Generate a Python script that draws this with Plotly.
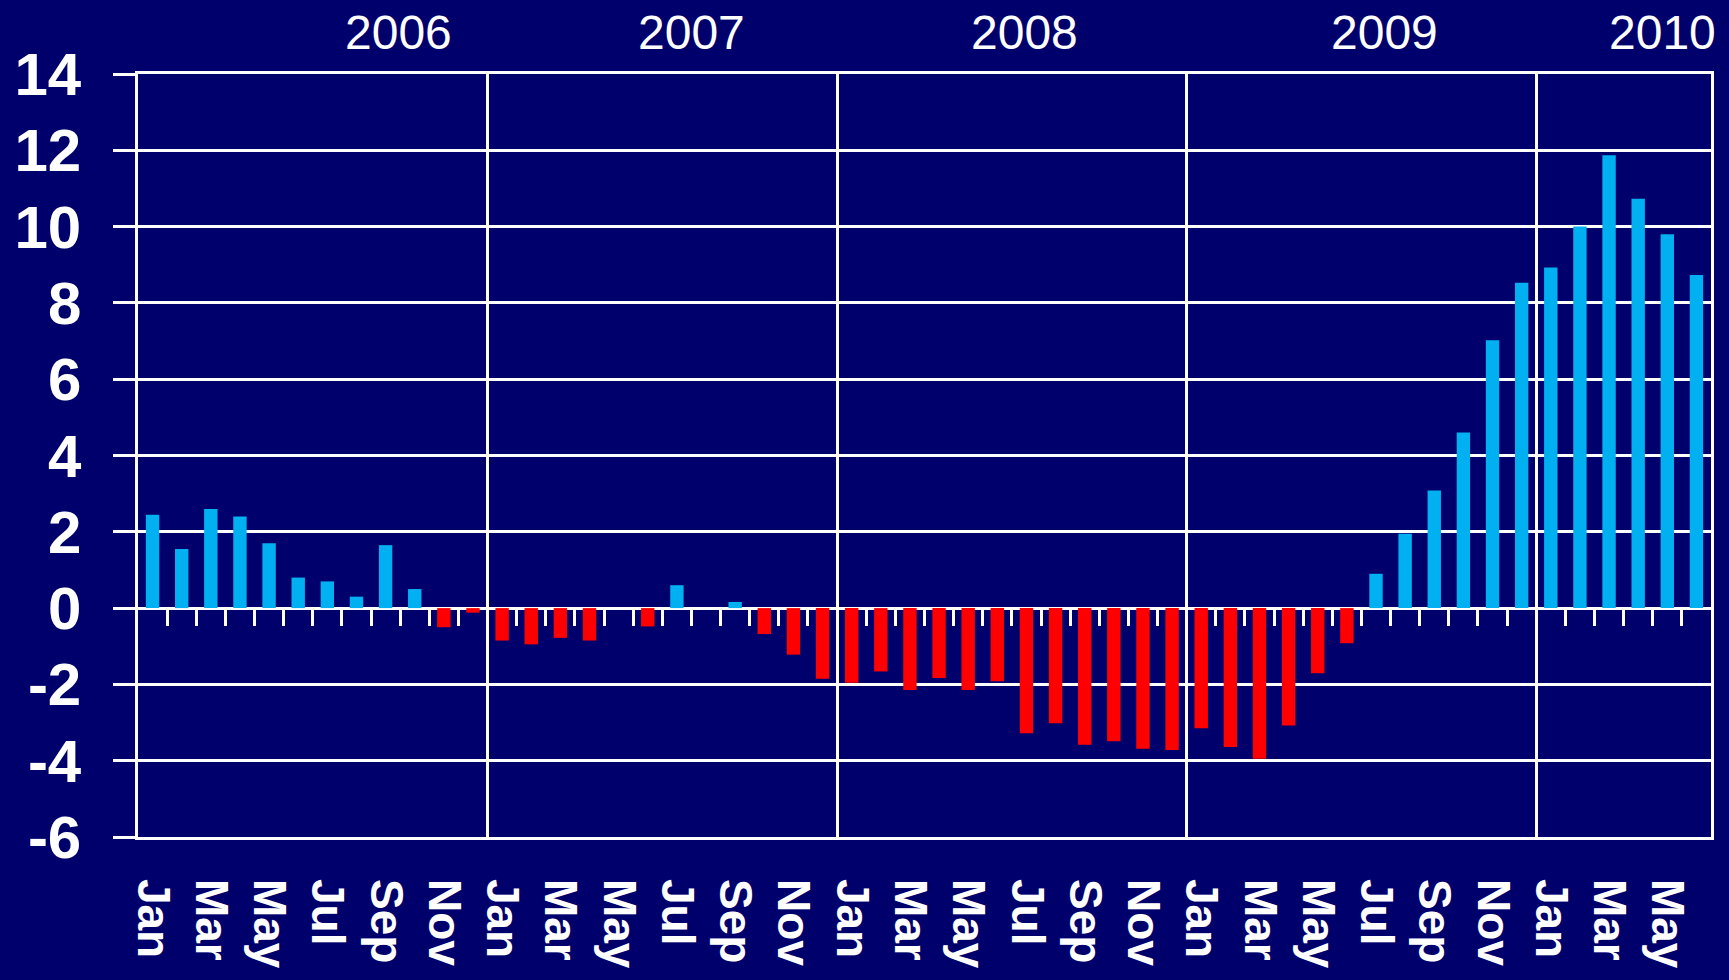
import plotly.graph_objects as go

# ---- data ----
month_cycle = ["Jan", "Feb", "Mar", "Apr", "May", "Jun",
               "Jul", "Aug", "Sep", "Oct", "Nov", "Dec"]
years = [2006, 2007, 2008, 2009, 2010]
values_2006 = [2.45, 1.55, 2.6, 2.4, 1.7, 0.8, 0.7, 0.3, 1.65, 0.5, -0.5, -0.12]
values_2007 = [-0.85, -0.95, -0.78, -0.85, 0.0, -0.48, 0.6, 0.0, 0.16, -0.68, -1.22, -1.85]
values_2008 = [-1.96, -1.66, -2.15, -1.83, -2.15, -1.92, -3.28, -3.02, -3.58, -3.49, -3.69, -3.72]
values_2009 = [-3.15, -3.64, -3.95, -3.08, -1.71, -0.92, 0.9, 1.95, 3.08, 4.6, 7.02, 8.53]
values_2010 = [8.93, 10.0, 11.87, 10.73, 9.8, 8.73]
y_ticks = [-6, -4, -2, 0, 2, 4, 6, 8, 10, 12, 14]
year_label_pos = [8.45, 18.51, 29.93, 42.3, 51.83]   # category positions of year captions

values = values_2006 + values_2007 + values_2008 + values_2009 + values_2010
n = len(values)
x = list(range(n))
month_labels = [month_cycle[i % 12] for i in x]

BG = "#00006C"
CYAN = "#00B0F0"
RED = "#FF0000"
colors = [CYAN if v >= 0 else RED for v in values]

fig = go.Figure()
fig.add_trace(go.Bar(x=x, y=values, marker=dict(color=colors, line=dict(width=0)),
                     width=0.46, showlegend=False))

tick_idx = x[::2]
fig.update_layout(
    width=1729, height=980,
    paper_bgcolor=BG, plot_bgcolor=BG,
    margin=dict(l=138, r=18, t=74, b=143),
    xaxis=dict(
        range=[-0.5, n - 0.5], automargin=False,
        tickmode="array", tickvals=tick_idx, ticktext=[month_labels[i] for i in tick_idx],
        tickangle=90, ticks="", ticklabelstandoff=30,
        tickfont=dict(family="Liberation Sans", size=46, color="white", weight="bold"),
        showgrid=False, zeroline=False,
        showline=True, linecolor="white", linewidth=2.5, mirror=True,
        minor=dict(tickmode="array", tickvals=[12 * k - 0.5 for k in range(1, 5)],
                   showgrid=True, gridcolor="white", gridwidth=2.5, ticks=""),
    ),
    xaxis2=dict(
        overlaying="x", matches="x", anchor="free", position=0.3, automargin=False,
        tickmode="array", tickvals=[i + 0.5 for i in range(n - 1)],
        ticks="outside", ticklen=17, tickwidth=3, tickcolor="white",
        showticklabels=False, showgrid=False, zeroline=False, showline=False,
    ),
    yaxis=dict(
        range=[-6, 14], automargin=False, tickmode="array", tickvals=y_ticks,
        ticktext=[str(v) for v in y_ticks],
        ticks="outside", ticklen=22, tickwidth=2.5, tickcolor="white",
        ticklabelstandoff=20,
        tickfont=dict(family="Liberation Sans", size=60, color="white", weight="bold"),
        showgrid=True, gridcolor="white", gridwidth=2.5,
        zeroline=True, zerolinecolor="white", zerolinewidth=3,
        showline=True, linecolor="white", linewidth=2.5, mirror=True,
    ),
)

# invisible trace to activate xaxis2 (month separator ticks on the zero line)
fig.add_trace(go.Scatter(x=[0], y=[0], xaxis="x2", mode="markers",
                         marker=dict(opacity=0), showlegend=False, hoverinfo="skip"))

for yr, pos in zip(years, year_label_pos):
    fig.add_annotation(x=pos, y=1, xref="x", yref="paper", text=str(yr),
                       showarrow=False, yanchor="middle", yshift=42,
                       font=dict(family="Liberation Sans", size=48, color="white"))

fig.write_html(
    "out.html",
    config={"displayModeBar": False},
    post_script=f"document.body.style.margin='0';document.body.style.background='{BG}';",
)
